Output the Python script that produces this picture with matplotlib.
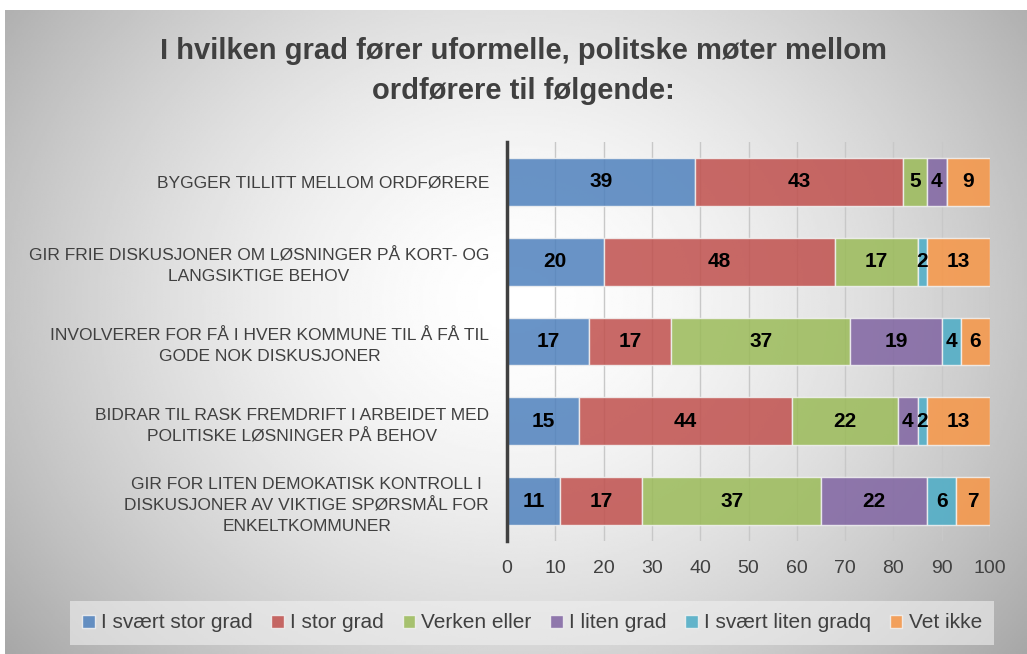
import matplotlib.pyplot as plt
import numpy as np

# data
categories = [
    "BYGGER TILLITT MELLOM ORDFØRERE",
    "GIR FRIE DISKUSJONER OM LØSNINGER PÅ KORT- OG\nLANGSIKTIGE BEHOV",
    "INVOLVERER FOR FÅ I HVER KOMMUNE TIL Å FÅ TIL\nGODE NOK DISKUSJONER",
    "BIDRAR TIL RASK FREMDRIFT I ARBEIDET MED\nPOLITISKE LØSNINGER PÅ BEHOV",
    "GIR FOR LITEN DEMOKATISK KONTROLL I\nDISKUSJONER AV VIKTIGE SPØRSMÅL FOR\nENKELTKOMMUNER",
]
series_names = ["I svært stor grad", "I stor grad", "Verken eller",
                "I liten grad", "I svært liten gradq", "Vet ikke"]
svaert_stor = [39, 20, 17, 15, 11]
stor = [43, 48, 17, 44, 17]
verken = [5, 17, 37, 22, 37]
liten = [4, 0, 19, 4, 22]
svaert_liten = [0, 2, 4, 2, 6]
vet_ikke = [9, 13, 6, 13, 7]
xticks = [0, 10, 20, 30, 40, 50, 60, 70, 80, 90, 100]

colors = ["#4F81BD", "#C0504D", "#9BBB59", "#8064A2", "#4BACC6", "#F79646"]
series = [svaert_stor, stor, verken, liten, svaert_liten, vet_ikke]

plt.rcParams['font.family'] = ['Liberation Sans', 'DejaVu Sans']

W, H = 1027, 654
fig = plt.figure(figsize=(W / 100, H / 100), dpi=100, facecolor='white')

# radial gradient background
bg = fig.add_axes([5 / W, 0, 1 - 5 / W, (H - 10) / H], zorder=-10)
yy, xx = np.mgrid[0:1:300j, 0:1:500j]
r = np.sqrt(((xx - 0.5) / 0.55) ** 2 + ((yy - 0.55) / 0.75) ** 2)
shade = 1 - 0.27 * np.clip(r, 0, 1.3) ** 1.6
bg.imshow(shade, cmap='gray', vmin=0, vmax=1, aspect='auto',
          extent=[0, 1, 0, 1], origin='lower')
bg.axis('off')

ax = fig.add_axes([507 / W, 1 - 541 / H, (990 - 507) / W, (541 - 142) / H])
ax.patch.set_alpha(0)

y = np.arange(len(categories))
left = np.zeros(len(categories))
for name, vals, c in zip(series_names, series, colors):
    vals = np.array(vals, dtype=float)
    ax.barh(y, vals, left=left, height=0.6, color=c, alpha=0.85,
            edgecolor='#f2f2f2', linewidth=1, label=name, zorder=2)
    for yi, (l, v) in enumerate(zip(left, vals)):
        if v > 0:
            ax.text(l + v / 2, yi, f"{int(v)}", ha='center', va='center',
                    fontsize=15, fontweight='bold', color='black', zorder=3)
    left += vals

ax.set_xlim(0, 100)
ax.set_ylim(len(categories) - 0.5, -0.5)
ax.set_xticks(xticks)
ax.set_xticklabels([str(t) for t in xticks], fontsize=14, color='#404040')
ax.set_yticks(y)
ax.set_yticklabels(categories, fontsize=12.5, color='#404040',
                   multialignment='center', linespacing=1.5)
ax.tick_params(axis='both', length=0)
ax.tick_params(axis='y', pad=13)
ax.tick_params(axis='x', pad=14)
ax.xaxis.grid(True, color='#c8c8c8', linewidth=1, zorder=0)
ax.set_axisbelow(True)
for s in ['top', 'right', 'bottom']:
    ax.spines[s].set_visible(False)
ax.spines['left'].set_color('#404040')
ax.spines['left'].set_linewidth(2.5)
ax.spines['left'].set_zorder(4)

fig.text(0.51, 1 - 71 / H, "I hvilken grad fører uformelle, politske møter mellom\nordførere til følgende:",
         ha='center', va='center', fontsize=21, fontweight='bold', color='#404040',
         linespacing=1.55)

leg = fig.legend(loc='center', bbox_to_anchor=(0.518, 1 - 623 / H), ncol=6,
                 fontsize=15, frameon=True, handlelength=0.6, handleheight=0.6,
                 handletextpad=0.3, columnspacing=0.9, borderpad=0.6)
leg.get_frame().set_facecolor('#f0f0f0')
leg.get_frame().set_edgecolor('none')
leg.get_frame().set_alpha(0.6)
leg.get_frame().set_boxstyle('square', pad=0)
for t in leg.get_texts():
    t.set_color('#404040')

fig.savefig('out.png', dpi=100)
